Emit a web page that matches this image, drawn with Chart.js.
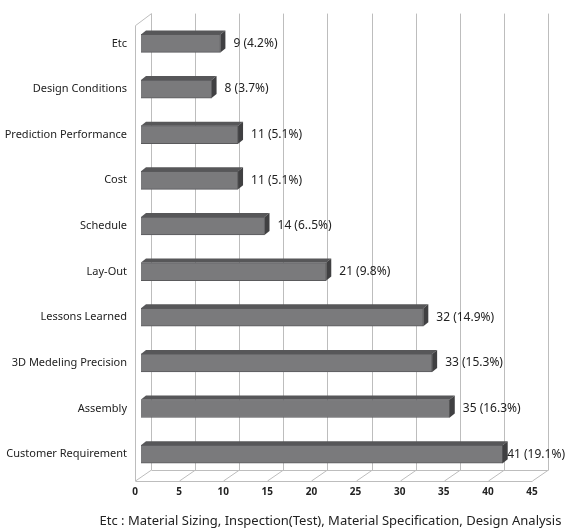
<!DOCTYPE html>
<html>
<head>
<meta charset="utf-8">
<script src="https://cdn.jsdelivr.net/npm/chart.js@4"></script>
<style>
    html, body { margin: 0; background: #fff; }
    #wrap { width: 566px; height: 531px; }
</style>
</head>
<body>
<div id="wrap"><canvas id="chart"></canvas></div>
<script>
const categories = ['Etc', 'Design Conditions', 'Prediction Performance', 'Cost', 'Schedule',
    'Lay-Out', 'Lessons Learned', '3D Medeling Precision', 'Assembly', 'Customer Requirement'];
const counts = [9, 8, 11, 11, 14, 21, 32, 33, 35, 41];
const shares = ['4.2%', '3.7%', '5.1%', '5.1%', '6..5%', '9.8%', '14.9%', '15.3%', '16.3%', '19.1%'];
const footnote = 'Etc : Material Sizing, Inspection(Test), Material Specification, Design Analysis';

const FONT = '"Noto Sans", sans-serif';
// depth offsets of the fake 3d box
const back = {dx: 10, dy: -7}, front = {dx: -6, dy: 4}, barDepth = {dx: 5, dy: -4};

const box3d = {
    id: 'box3d',
    beforeDatasetsDraw(chart) {
        const {ctx, chartArea: a, scales: {x}} = chart;
        const top = a.top, bot = a.bottom;
        ctx.save();
        ctx.lineWidth = 1;
        ctx.strokeStyle = '#bdbdbd';
        ctx.beginPath();
        for (let v = 0; v <= 45; v += 5) {
            const px = Math.round(x.getPixelForValue(v)) + 0.5;
            ctx.moveTo(px + back.dx, top + back.dy);
            ctx.lineTo(px + back.dx, bot + back.dy);
            ctx.moveTo(px + front.dx, bot + front.dy);
            ctx.lineTo(px + back.dx, bot + back.dy);
        }
        const x0 = Math.round(x.getPixelForValue(0)) + 0.5;
        const x45 = Math.round(x.getPixelForValue(45)) + 0.5;
        // floor edges
        ctx.moveTo(x0 + front.dx, bot + front.dy + 0.5);
        ctx.lineTo(x45 + front.dx, bot + front.dy + 0.5);
        ctx.moveTo(x0 + back.dx, bot + back.dy + 0.5);
        ctx.lineTo(x45 + back.dx, bot + back.dy + 0.5);
        // left wall
        ctx.moveTo(x0 + front.dx, bot + front.dy);
        ctx.lineTo(x0 + front.dx, top + 5);
        ctx.lineTo(x0 + back.dx, top + back.dy);
        ctx.stroke();
        ctx.restore();
    },
    afterDatasetsDraw(chart) {
        const {ctx} = chart;
        const meta = chart.getDatasetMeta(0);
        ctx.save();
        meta.data.forEach((bar, i) => {
            const {x, y, base, height} = bar.getProps(['x', 'y', 'base', 'height'], true);
            const t = y - height / 2, b = y + height / 2;
            // top face
            ctx.fillStyle = '#575759';
            ctx.beginPath();
            ctx.moveTo(base, t);
            ctx.lineTo(x, t);
            ctx.lineTo(x + barDepth.dx, t + barDepth.dy);
            ctx.lineTo(base + barDepth.dx, t + barDepth.dy);
            ctx.closePath();
            ctx.fill();
            // side face
            ctx.fillStyle = '#404042';
            ctx.beginPath();
            ctx.moveTo(x, t);
            ctx.lineTo(x + barDepth.dx, t + barDepth.dy);
            ctx.lineTo(x + barDepth.dx, b + barDepth.dy);
            ctx.lineTo(x, b);
            ctx.closePath();
            ctx.fill();
            // value label, pulled in when it would run off the canvas
            const txt = counts[i] + ' (' + shares[i] + ')';
            ctx.fillStyle = '#222';
            ctx.font = '12px ' + FONT;
            ctx.textAlign = 'left';
            ctx.textBaseline = 'middle';
            const w = ctx.measureText(txt).width;
            const lx = Math.min(x + 13, chart.width - 1 - w);
            ctx.fillText(txt, lx, y);
        });
        ctx.restore();
    },
    afterDraw(chart) {
        const {ctx, chartArea: a} = chart;
        ctx.save();
        ctx.fillStyle = '#222';
        ctx.font = '13px ' + FONT;
        ctx.textAlign = 'center';
        ctx.textBaseline = 'middle';
        ctx.fillText(footnote, (a.left + a.right) / 2 - 9, a.bottom + 44);
        ctx.restore();
    }
};

new Chart(document.getElementById('chart'), {
    type: 'bar',
    data: {
        labels: categories,
        datasets: [{
            data: counts,
            backgroundColor: '#7a7a7c',
            borderColor: '#5a5a5c',
            borderWidth: 1,
            barThickness: 18
        }]
    },
    options: {
        indexAxis: 'y',
        responsive: true,
        maintainAspectRatio: false,
        animation: false,
        layout: {padding: {left: 0, top: 17, right: 28, bottom: 0}},
        plugins: {legend: {display: false}, tooltip: {enabled: false}},
        scales: {
            x: {
                min: 0, max: 45,
                grid: {display: false, drawTicks: false},
                border: {display: false},
                ticks: {stepSize: 5, padding: 9, labelOffset: -6, color: '#222',
                    font: {family: FONT, size: 10, weight: 'bold'}},
                afterFit(scale) { scale.height = 54; }
            },
            y: {
                grid: {display: false, drawTicks: false},
                border: {display: false},
                ticks: {padding: 14, color: '#222', font: {family: FONT, size: 11}},
                afterFit(scale) { scale.width = 141; }
            }
        }
    },
    plugins: [box3d]
});
</script>
</body>
</html>
